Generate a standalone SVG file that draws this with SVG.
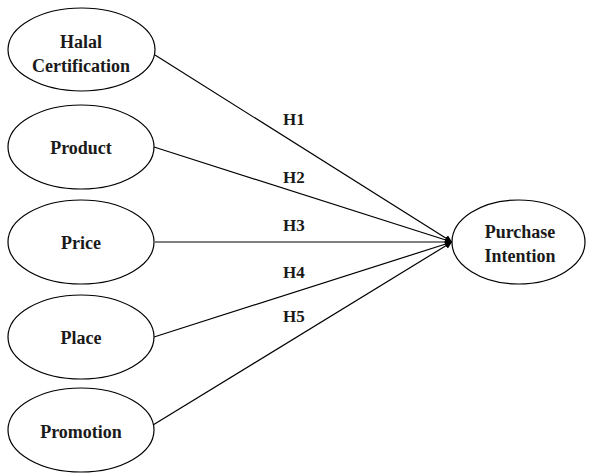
<svg xmlns="http://www.w3.org/2000/svg" width="589" height="473" viewBox="0 0 589 473">
<style>
.n{fill:#fff;stroke:#000;stroke-width:1.2}
.t{font-family:"Liberation Serif",serif;font-weight:bold;font-size:18px;fill:#1a1a1a;text-anchor:middle}
.l{font-family:"Liberation Serif",serif;font-weight:bold;font-size:17px;fill:#1a1a1a}
.c{stroke:#000;stroke-width:1.2;fill:none;marker-end:url(#a)}
</style>
<defs>
<marker id="a" viewBox="0 0 10 10" refX="10" refY="5" markerWidth="7" markerHeight="7" markerUnits="userSpaceOnUse" orient="auto">
<path d="M0,0 L10,5 L0,10 z" fill="#000"/>
</marker>
</defs>
<rect width="589" height="473" fill="#fff"/>
<g id="connectors">
<line class="c" x1="155" y1="55" x2="452" y2="242"/>
<line class="c" x1="154" y1="147" x2="452" y2="242"/>
<line class="c" x1="155" y1="242" x2="452" y2="242"/>
<line class="c" x1="154" y1="337" x2="452" y2="242"/>
<line class="c" x1="153" y1="425" x2="452" y2="242"/>
<text class="l" x="283" y="125">H1</text>
<text class="l" x="283" y="183">H2</text>
<text class="l" x="283" y="231">H3</text>
<text class="l" x="283" y="278">H4</text>
<text class="l" x="283" y="322">H5</text>
</g>
<g id="halal">
<ellipse class="n" cx="81.5" cy="49.5" rx="73.5" ry="41.5"/>
<text class="t" x="81" y="48">Halal</text>
<text class="t" x="81" y="72">Certification</text>
</g>
<g id="product">
<ellipse class="n" cx="81" cy="147" rx="73" ry="42"/>
<text class="t" x="81" y="154">Product</text>
</g>
<g id="price">
<ellipse class="n" cx="81" cy="242" rx="73" ry="42"/>
<text class="t" x="81" y="249">Price</text>
</g>
<g id="place">
<ellipse class="n" cx="81" cy="337" rx="73" ry="42"/>
<text class="t" x="81" y="344">Place</text>
</g>
<g id="promotion">
<ellipse class="n" cx="81" cy="430" rx="73" ry="42"/>
<text class="t" x="81" y="438">Promotion</text>
</g>
<g id="purchase">
<ellipse class="n" cx="518.5" cy="242" rx="66.5" ry="42"/>
<text class="t" x="520" y="238">Purchase</text>
<text class="t" x="520" y="262">Intention</text>
</g>
</svg>
